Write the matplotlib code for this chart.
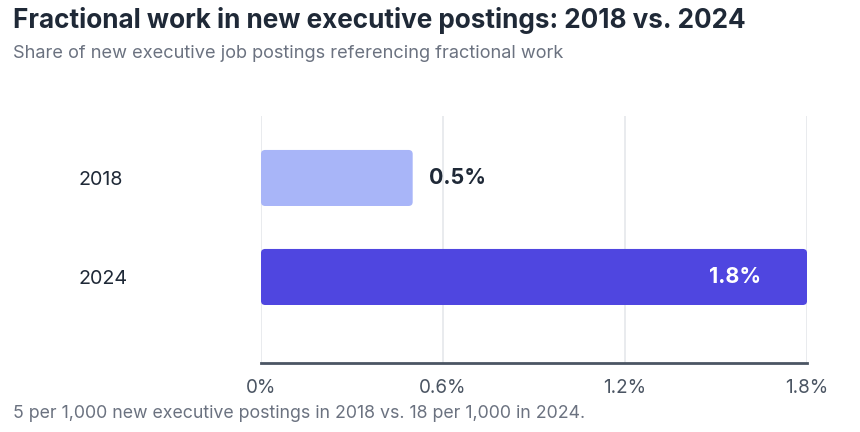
import matplotlib
matplotlib.use("Agg")
import matplotlib.pyplot as plt
from matplotlib.patches import FancyBboxPatch

years = ["2018", "2024"]
shares = [0.5, 1.8]
bar_colors = ["#A8B5F8", "#4F46E0"]
ticks = [0, 0.6, 1.2, 1.8]
tick_labels = ["0%", "0.6%", "1.2%", "1.8%"]

plt.rcParams["font.family"] = ["Inter", "DejaVu Sans"]

fig = plt.figure(figsize=(8.6, 4.32), dpi=100)
ax = fig.add_axes([0.3035, 0.1597, 0.6349, 0.5718])

bars = ax.barh(range(len(years)), shares, height=0.566, color=bar_colors)

# swap the plain bars for rounded ones
for b in bars:
    x, y = b.get_x(), b.get_y()
    w, h = b.get_width(), b.get_height()
    b.set_visible(False)
    ax.add_patch(FancyBboxPatch((x, y), w, h,
                                boxstyle="round,pad=0,rounding_size=0.014",
                                mutation_aspect=2.9,
                                facecolor=b.get_facecolor(), edgecolor="none",
                                zorder=3))

ax.set_xlim(0, 1.8)
ax.set_ylim(1.869, -0.626)

ax.set_xticks(ticks)
ax.set_xticklabels(tick_labels)
ax.set_yticks(range(len(years)))
ax.set_yticklabels(years)
ax.tick_params(axis="y", length=0, pad=131.5, labelsize=14.2, labelcolor="#1F2937")
for lab in ax.get_yticklabels():
    lab.set_horizontalalignment("left")
ax.tick_params(axis="x", length=0, pad=11.5, labelsize=13.6, labelcolor="#4B5563")

ax.grid(axis="x", color="#E5E7EB", linewidth=1.2, zorder=0)
ax.set_axisbelow(True)
for s in ["top", "right", "left"]:
    ax.spines[s].set_visible(False)
ax.spines["bottom"].set_color("#4B5563")
ax.spines["bottom"].set_linewidth(2)

# value labels
for i, v in enumerate(shares):
    if v > 1.0:
        ax.text(v - 0.15, i, f"{v}%", ha="right", va="center", color="white",
                fontsize=15.4, fontweight="bold", zorder=4)
    else:
        ax.text(v + 0.055, i, f"{v}%", ha="left", va="center", color="#1F2937",
                fontsize=15.4, fontweight="bold", zorder=4)

fig.text(13 / 860, 1 - 21 / 432, "Fractional work in new executive postings: 2018 vs. 2024",
         fontsize=18.8, fontweight="bold", color="#1F2937", va="center")
fig.text(13 / 860, 1 - 53 / 432, "Share of new executive job postings referencing fractional work",
         fontsize=13.1, color="#6B7280", va="center")
fig.text(13 / 860, 1 - 413 / 432, "5 per 1,000 new executive postings in 2018 vs. 18 per 1,000 in 2024.",
         fontsize=12.8, color="#6B7280", va="center")

plt.savefig("out.png", dpi=100)
plt.close()
